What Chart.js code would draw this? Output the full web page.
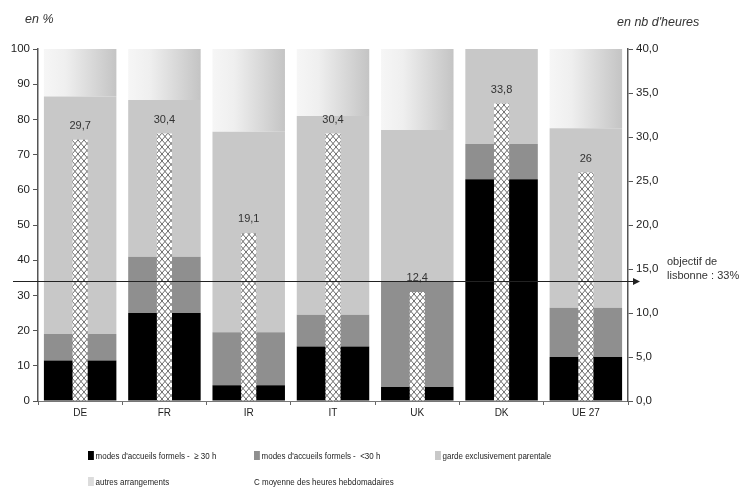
<!DOCTYPE html>
<html>
<head>
<meta charset="utf-8">
<script src="https://cdn.jsdelivr.net/npm/chart.js@4.4.1/dist/chart.umd.min.js"></script>
<style>
    body { margin: 0; background: #fff; }
    #wrap { position: relative; width: 747px; height: 488px; font-family: "Liberation Sans", Arial, sans-serif; }
    #chart { position: absolute; left: 0; top: 0; }
    .lg { position: absolute; font-family: "Liberation Sans", Arial, sans-serif; font-size: 9.5px; color: #222; white-space: nowrap; line-height: 10px; transform: scaleX(0.84); transform-origin: 0 50%; }
    .sw { display: inline-block; width: 7px; height: 9px; vertical-align: -1px; margin-right: 2px; }
</style>
</head>
<body>
<div id="wrap">
    <canvas id="chart" width="747" height="488"></canvas>
    <div class="lg" style="left:88px;top:451px"><span class="sw" style="background:#000"></span>modes d'accueils formels -&nbsp; ≥ 30 h</div>
    <div class="lg" style="left:254px;top:451px"><span class="sw" style="background:#8f8f8f"></span>modes d'accueils formels -&nbsp; &lt;30 h</div>
    <div class="lg" style="left:435px;top:451px"><span class="sw" style="background:#c8c8c8"></span>garde exclusivement parentale</div>
    <div class="lg" style="left:88px;top:477px"><span class="sw" style="background:#dcdcdc"></span>autres arrangements</div>
    <div class="lg" style="left:254px;top:477px">C moyenne des heures hebdomadaires</div>
</div>
<script>
// pays
const categories = ["DE", "FR", "IR", "IT", "UK", "DK", "UE 27"];

// en % (empilés)
const formelsPlus30 = [11.5, 25, 4.5, 15.5, 4, 63, 12.5];
const formelsMoins30 = [7.5, 16, 15, 9, 30, 10, 14];
const gardeParentale = [67.5, 44.5, 57, 56.5, 43, 27, 51];
const autresArrangements = [13.5, 14.5, 23.5, 19, 23, 0, 22.5];

// en nb d'heures
const heuresHebdo = [29.7, 30.4, 19.1, 30.4, 12.4, 33.8, 26];

const leftTicks = [0, 10, 20, 30, 40, 50, 60, 70, 80, 90, 100];
const rightTicks = [0, 5, 10, 15, 20, 25, 30, 35, 40];

const lisbonne = 34;
const lisbonneLabel = ["objectif de", "lisbonne : 33%"];

const BAR_PCT = 0.86;
const HATCH_PCT = 0.18;

function makeHatch() {
    const c = document.createElement("canvas");
    c.width = 6;
    c.height = 7;
    const g = c.getContext("2d");
    g.fillStyle = "#fff";
    g.fillRect(0, 0, 6, 7);
    g.strokeStyle = "#6a6a6a";
    g.lineWidth = 1;
    g.beginPath();
    g.moveTo(0, 0); g.lineTo(6, 7);
    g.moveTo(6, 0); g.lineTo(0, 7);
    g.stroke();
    return document.getElementById("chart").getContext("2d").createPattern(c, "repeat");
}

function autresFill(context) {
    const chart = context.chart;
    const x = chart.scales.x;
    if (!x || !chart.chartArea) return "#e4e4e4";
    const cx = x.getPixelForValue(context.dataIndex);
    const half = (x.width / categories.length) * BAR_PCT / 2;
    const g = chart.ctx.createLinearGradient(cx - half, 0, cx + half, 0);
    g.addColorStop(0, "#f6f6f6");
    g.addColorStop(0.3, "#efefef");
    g.addColorStop(1, "#c4c4c4");
    return g;
}

const decorations = {
    id: "decorations",
    afterDatasetsDraw(chart) {
        const ctx = chart.ctx;
        const y = chart.scales.y;

        // valeurs des heures
        const meta = chart.getDatasetMeta(4);
        ctx.save();
        ctx.font = "11px 'Liberation Sans', Arial, sans-serif";
        ctx.fillStyle = "#333";
        ctx.textAlign = "center";
        ctx.textBaseline = "bottom";
        meta.data.forEach((bar, i) => {
            ctx.fillText(String(heuresHebdo[i]).replace(".", ","), bar.x, bar.y - 8);
        });

        // objectif de lisbonne
        const ly = Math.round(y.getPixelForValue(lisbonne)) + 0.5;
        const right = chart.chartArea.right + 12;
        ctx.strokeStyle = "#222";
        ctx.lineWidth = 1.2;
        ctx.beginPath();
        ctx.moveTo(13, ly);
        ctx.lineTo(right - 4, ly);
        ctx.stroke();
        ctx.fillStyle = "#222";
        ctx.beginPath();
        ctx.moveTo(right, ly);
        ctx.lineTo(right - 7, ly - 3.5);
        ctx.lineTo(right - 7, ly + 3.5);
        ctx.closePath();
        ctx.fill();

        ctx.font = "11px 'Liberation Sans', Arial, sans-serif";
        ctx.fillStyle = "#333";
        ctx.textAlign = "left";
        ctx.textBaseline = "middle";
        ctx.fillText(lisbonneLabel[0], 667, ly - 20);
        ctx.fillText(lisbonneLabel[1], 667, ly - 6);

        // titres des axes
        ctx.font = "italic 12.5px 'Liberation Sans', Arial, sans-serif";
        ctx.fillStyle = "#333";
        ctx.fillText("en %", 25, 20);
        ctx.fillText("en nb d'heures", 617, 23);
        ctx.restore();
    }
};

const stackedCommon = {
    stack: "pct",
    yAxisID: "y",
    grouped: false,
    barPercentage: BAR_PCT,
    categoryPercentage: 1,
    order: 1,
    borderWidth: 0
};

new Chart(document.getElementById("chart"), {
    type: "bar",
    data: {
        labels: categories,
        datasets: [
            { ...stackedCommon, label: "modes d'accueils formels -  ≥ 30 h", data: formelsPlus30, backgroundColor: "#000" },
            { ...stackedCommon, label: "modes d'accueils formels -  <30 h", data: formelsMoins30, backgroundColor: "#8f8f8f" },
            { ...stackedCommon, label: "garde exclusivement parentale", data: gardeParentale, backgroundColor: "#c8c8c8" },
            { ...stackedCommon, label: "autres arrangements", data: autresArrangements, backgroundColor: autresFill },
            {
                label: "moyenne des heures hebdomadaires",
                data: heuresHebdo,
                yAxisID: "y2",
                stack: "heures",
                grouped: false,
                barPercentage: HATCH_PCT,
                categoryPercentage: 1,
                order: 0,
                backgroundColor: makeHatch(),
                borderWidth: 0
            }
        ]
    },
    options: {
        responsive: false,
        animation: false,
        layout: { padding: { top: 49, left: 0, right: 0, bottom: 0 } },
        plugins: {
            legend: { display: false },
            tooltip: { enabled: false }
        },
        scales: {
            x: {
                offset: true,
                grid: { display: true, offset: true, drawOnChartArea: false, tickLength: 4, color: "#666" },
                border: { color: "#777", width: 1 },
                ticks: { color: "#222", font: { size: 10, family: "'Liberation Sans', Arial, sans-serif" }, padding: 2 },
                afterFit: (s) => { s.height = 87; }
            },
            y: {
                stacked: true,
                min: 0,
                max: 100,
                afterBuildTicks: (s) => { s.ticks = leftTicks.map((v) => ({ value: v })); },
                grid: { drawOnChartArea: false, tickLength: 5, color: "#555" },
                border: { color: "#555", width: 1.5 },
                ticks: { color: "#222", font: { size: 11.5, family: "'Liberation Sans', Arial, sans-serif" }, padding: 3 },
                afterFit: (s) => { s.width = 38; }
            },
            y2: {
                position: "right",
                min: 0,
                max: 40,
                afterBuildTicks: (s) => { s.ticks = rightTicks.map((v) => ({ value: v })); },
                grid: { drawOnChartArea: false, tickLength: 5, color: "#555" },
                border: { color: "#555", width: 1.5 },
                ticks: {
                    color: "#222",
                    font: { size: 11.5, family: "'Liberation Sans', Arial, sans-serif" },
                    padding: 3,
                    callback: (v) => v.toFixed(1).replace(".", ",")
                },
                afterFit: (s) => { s.width = 119; }
            }
        }
    },
    plugins: [decorations]
});
</script>
</body>
</html>
